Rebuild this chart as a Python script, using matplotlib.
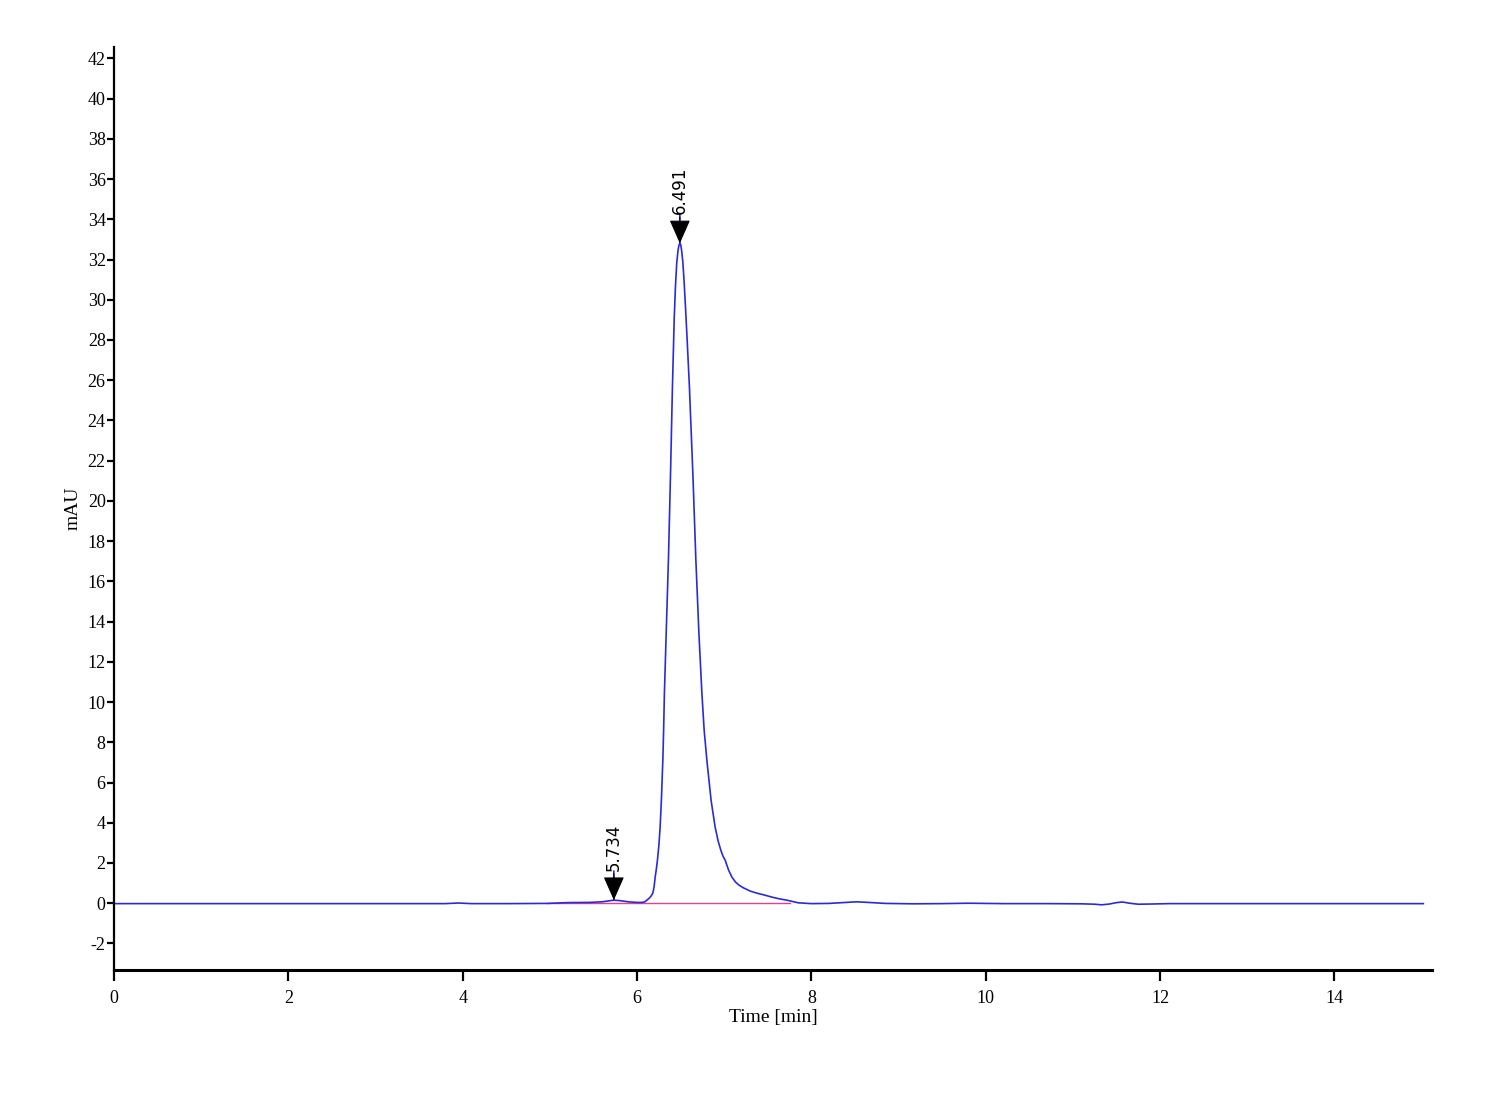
import matplotlib
matplotlib.use("Agg")
from matplotlib import pyplot as plt

plt.rcParams["axes.unicode_minus"] = False

# chromatogram trace (time in min, signal in mAU)
time_min = [
    0.0, 1.0, 2.0, 3.0, 3.8, 3.95, 4.1, 4.5, 4.97, 5.2, 5.45, 5.6, 5.68,
    5.734, 5.8, 5.9, 6.0, 6.06, 6.09, 6.112, 6.14, 6.16, 6.181, 6.195,
    6.208, 6.22, 6.234, 6.25, 6.265, 6.28, 6.296, 6.305, 6.314, 6.335, 6.36,
    6.385, 6.406, 6.426, 6.44, 6.455, 6.47, 6.48, 6.49, 6.50, 6.51, 6.525,
    6.54, 6.555, 6.575, 6.601, 6.64, 6.675, 6.71, 6.744, 6.77, 6.801, 6.85,
    6.896, 6.93, 6.96, 6.985, 7.011, 7.05, 7.088, 7.13, 7.17, 7.218, 7.3,
    7.375, 7.45, 7.55, 7.63, 7.719, 7.85, 8.0, 8.2, 8.4, 8.52, 8.65, 8.85,
    9.17, 9.5, 9.8, 10.2, 10.7, 11.1, 11.25, 11.33, 11.42, 11.5, 11.57,
    11.65, 11.75, 11.9, 12.1, 13.0, 14.0, 15.02,
]
signal_mau = [
    -0.02, -0.02, -0.02, -0.02, -0.02, 0.01, -0.02, -0.02, -0.01, 0.03, 0.04,
    0.07, 0.12, 0.15, 0.13, 0.07, 0.04, 0.04, 0.07, 0.15, 0.25, 0.35, 0.50,
    0.8, 1.29, 1.65, 2.14, 2.85, 3.78, 5.2, 7.11, 8.6, 10.44, 13.5, 17.05,
    21.5, 25.65, 28.98, 30.6, 31.8, 32.45, 32.7, 32.8, 32.75, 32.5, 31.9,
    30.9, 29.7, 28.0, 25.65, 21.4, 17.05, 13.4, 10.44, 8.6, 7.11, 5.1, 3.78,
    3.1, 2.65, 2.35, 2.14, 1.65, 1.3, 1.05, 0.9, 0.77, 0.6, 0.5, 0.42, 0.3,
    0.22, 0.15, 0.02, -0.02, -0.01, 0.04, 0.07, 0.04, -0.01, -0.03, -0.02,
    0.0, -0.02, -0.02, -0.03, -0.05, -0.08, -0.04, 0.03, 0.06, 0.0, -0.05,
    -0.04, -0.02, -0.02, -0.02, -0.02,
]

# integration baseline
baseline_t = [4.97, 7.76]
baseline_y = [0.0, 0.0]

# peak labels
peak_times = [5.734, 6.491]
peak_heights = [0.15, 32.8]
peak_labels = ["5.734", "6.491"]

serif = "Liberation Serif"
blue = "#2b2bd6"

fig = plt.figure(figsize=(15, 11), dpi=100)
ax = fig.add_axes([0.076, 0.118, 0.8787, 0.839])

ax.plot(baseline_t, baseline_y, color="#e0409a", lw=1.0, zorder=1)
ax.plot(time_min, signal_mau, color=blue, lw=1.2, zorder=2)

for t, h, lab in zip(peak_times, peak_heights, peak_labels):
    # blue stem under the label
    ax.annotate(
        "", xy=(t, h), xytext=(0, 21), textcoords="offset points",
        arrowprops=dict(arrowstyle="-", color=blue, lw=1.2,
                        shrinkA=0, shrinkB=0),
        zorder=3,
    )
    ax.annotate(
        lab, xy=(t, h), xytext=(0, 21), textcoords="offset points",
        rotation=90, ha="center", va="bottom", fontsize=12,
        family="DejaVu Sans",
        arrowprops=dict(arrowstyle="-|>,head_length=1.25,head_width=0.55",
                        color="black", lw=0.8, shrinkA=0, shrinkB=0),
        zorder=4,
    )

ax.set_xlim(0, 15.12)
ax.set_ylim(-3.33, 42.55)
ax.set_xticks(range(0, 15, 2))
ax.set_yticks(range(-2, 43, 2))

for side in ("top", "right"):
    ax.spines[side].set_visible(False)
ax.spines["left"].set_linewidth(1.6)
ax.spines["bottom"].set_linewidth(2.2)

ax.tick_params(axis="y", direction="out", length=5, width=1.6, pad=1,
               labelsize=13)
ax.tick_params(axis="x", direction="out", length=8, width=1.6, pad=6,
               labelsize=13)
for lbl in ax.get_xticklabels() + ax.get_yticklabels():
    lbl.set_family(serif)

ax.set_xlabel("Time [min]", family=serif, fontsize=14, labelpad=2)
ax.set_ylabel("mAU", family=serif, fontsize=14, labelpad=4)

fig.savefig("out.png", dpi=100)
